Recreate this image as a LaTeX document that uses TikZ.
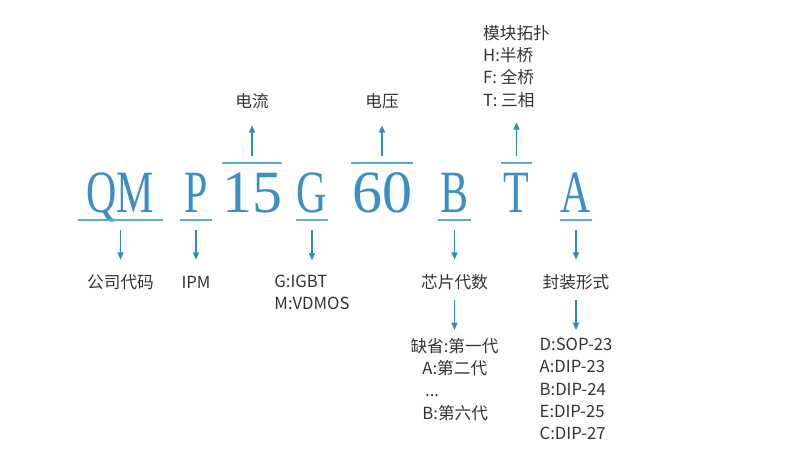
\documentclass[tikz,border=0pt]{standalone}
\usepackage{fontspec}
\setmainfont{Noto Sans CJK SC}
\newfontfamily\codefont[FakeStretch=0.7]{Liberation Serif}
\newfontfamily\numfont{Liberation Serif}
\usetikzlibrary{arrows.meta}
\definecolor{codeblue}{HTML}{3A8FC6}
\definecolor{linkblue}{HTML}{2E8BC6}
\definecolor{barblue}{HTML}{5AAADB}
\definecolor{labeltext}{HTML}{333333}

\begin{document}
\begin{tikzpicture}[x=0.75pt, y=-0.75pt,
    code/.style={anchor=base, inner sep=0pt, text=codeblue, font=\fontsize{45}{45}\selectfont},
    lbl/.style={inner sep=0pt, text=labeltext, font=\fontsize{12.5}{16.7}\selectfont, text height=10pt, text depth=2.5pt},
    lst/.style={inner sep=0pt, anchor=north, text=labeltext, font=\fontsize{12.5}{16.7}\selectfont},
    bar/.style={draw=barblue, line width=1.1pt},
    arr/.style={-{Triangle[length=5.5pt, width=4.5pt]}, draw=linkblue, line width=0.9pt},
]
    \useasboundingbox (0,0) rectangle (797,468);

    % model code
    \node[code, minimum width=63.75pt] (qm)  at (120.5,212) {\codefont QM};
    \node[code, minimum width=24pt]    (p)   at (196,212)   {\codefont P};
    \node[code, minimum width=39pt]    (i15) at (252,212)   {\numfont 15};
    \node[code, minimum width=24pt]    (g)   at (312,212)   {\codefont G};
    \node[code, minimum width=46.5pt]  (v60) at (382,212)   {\numfont 60};
    \node[code, minimum width=24.75pt] (b)   at (454.5,212) {\codefont B};
    \node[code, minimum width=23.25pt] (t)   at (516.5,212) {\codefont T};
    \node[code, minimum width=24pt]    (a)   at (576,212)   {\codefont A};

    % under- and overlines
    \foreach \n in {qm,p,g,b,a}
        \draw[bar] ([yshift=-6pt]\n.base west) -- ([yshift=-6pt]\n.base east);
    \foreach \n in {i15,v60,t}
        \draw[bar] ([yshift=36.75pt]\n.base west) -- ([yshift=36.75pt]\n.base east);

    % labels above
    \node[lbl] (curr) at (252,102) {电流};
    \node[lbl] (volt) at (382,102) {电压};
    \node[lst, align=left] (topo) at (516.5,25) {模块拓扑\\H:半桥\\F: 全桥\\T: 三相};

    % labels below
    \node[lbl] (comp) at (120.5,283) {公司代码};
    \node[lbl] (ipm)  at (196,283)   {IPM};
    \node[lst, align=left] (dev) at (312,275) {G:IGBT\\M:VDMOS};
    \node[lbl] (gen)  at (454.5,283) {芯片代数};
    \node[lbl] (pkg)  at (576,283)   {封装形式};
    \node[lst, align=center] (genlist) at (454.5,338)
        {缺省:第一代\\\makebox[3.85em][l]{A:第二代}\\\makebox[3.85em][l]{\,...}\\\makebox[3.85em][l]{B:第六代}};
    \node[lst, align=left] (pkglist) at (576,338)
        {D:SOP-23\\A:DIP-23\\B:DIP-24\\E:DIP-25\\C:DIP-27};

    % arrows
    \draw[arr] ([yshift=42pt]i15.base) -- ([yshift=-11pt]curr.south);
    \draw[arr] ([yshift=42pt]v60.base) -- ([yshift=-11pt]volt.south);
    \draw[arr] ([yshift=42pt]t.base) -- ([yshift=-11pt]topo.south);
    \draw[arr] ([yshift=-13.5pt]qm.base) -- ([yshift=11pt]comp.north);
    \draw[arr] ([yshift=-13.5pt]p.base) -- ([yshift=11pt]ipm.north);
    \draw[arr] ([yshift=-13.5pt]g.base) -- ([yshift=11pt]dev.north);
    \draw[arr] ([yshift=-13.5pt]b.base) -- ([yshift=11pt]gen.north);
    \draw[arr] ([yshift=-13.5pt]a.base) -- ([yshift=11pt]pkg.north);
    \draw[arr] ([yshift=-6pt]gen.south) -- ([yshift=6pt]genlist.north);
    \draw[arr] ([yshift=-6pt]pkg.south) -- ([yshift=6pt]pkglist.north);
\end{tikzpicture}
\end{document}
